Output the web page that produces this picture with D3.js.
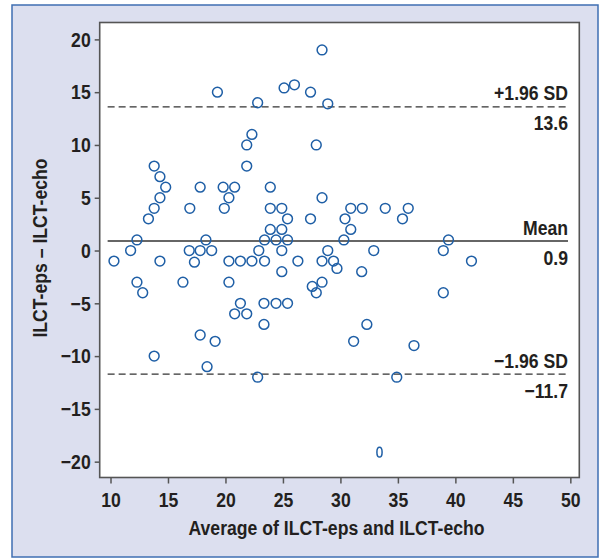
<!DOCTYPE html>
<html><head><meta charset="utf-8">
<script src="https://cdn.jsdelivr.net/npm/d3@7"></script>
<style>
html,body{margin:0;padding:0;background:#fff;}
svg text{font-family:"Liberation Sans Narrow","Arial Narrow","Liberation Sans",Arial,sans-serif;font-weight:bold;fill:#231f20;}
</style></head>
<body>
<script>
// Bland–Altman data: [average, difference]
const avgValues = [10.3,11.75,12.3,12.3,12.8,13.3,13.8,13.8,13.8,14.3,14.3,14.3,14.8,16.3,16.85,16.9,17.3,17.8,17.8,17.8,18.3,18.8,18.4,19.1,19.3,19.8,19.9,20.3,20.3,20.3,20.8,20.8,21.3,21.3,21.85,21.85,21.85,22.3,22.3,22.8,22.8,22.9,23.4,23.4,23.35,23.35,23.9,23.9,23.9,24.4,24.4,24.9,24.9,24.9,24.9,25.1,25.4,25.4,25.4,26.0,26.3,27.4,27.4,27.55,27.9,27.9,28.4,28.4,28.4,28.4,28.9,28.9,29.4,29.7,30.3,30.4,30.9,30.9,31.15,31.85,31.9,32.3,32.9,33.9,34.9,35.4,35.9,36.4,38.95,38.95,39.4,41.4];
const diffValues = [-1,0,1,-3,-4,3,4,8,-10,7,5,-1,6,-3,0,4,-1.1,6,0,-8,1,0,-11,-8.6,15,6,4,5,-1,-3,6,-6,-1,-5,10,8,-6,11,-1,14,-12,0,1,-1,-5,-7,6,4,2,1,-5,4,2,0,-2,15.4,3,1,-5,15.7,-1,15,3,-3.4,10,-4,19,5,-1,-3,13.9,0,-1,-1.7,1,3,4,2,-8.6,-2,4,-7,0,4,-12,3,4,-9,0,-4,1,-1];
// point drawn clipped/narrow in the original
const narrowAvg = [33.4];
const narrowDiff = [-19.1];

const xTicks = [10,15,20,25,30,35,40,45,50];
const yTicks = [20,15,10,5,0,-5,-10,-15,-20];
const meanDiff = 0.9, upperLoA = 13.6, lowerLoA = -11.7;
const lineSpan = [9.75, 49.8];
const refLabels = [
  {v: upperLoA, name: "+1.96 SD", val: "13.6", dash: true},
  {v: meanDiff, name: "Mean", val: "0.9", dash: false},
  {v: lowerLoA, name: "\u22121.96 SD", val: "\u221211.7", dash: true}
];
const xTitle = "Average of ILCT-eps and ILCT-echo";
const yTitle = "ILCT-eps \u2013 ILCT-echo";

const W = 609, H = 558;
const SX = 0.84; // horizontal condensing to imitate a condensed bold face
const svg = d3.select("body").append("svg").attr("width", W).attr("height", H);

function condense(sel) {
  sel.each(function() {
    const t = d3.select(this);
    const X = +(t.attr("x") || 0);
    t.attr("transform", `translate(${X},0) scale(${SX},1) translate(${-X},0)`);
  });
}

// outer panel
svg.append("rect").attr("x", 12).attr("y", 5).attr("width", 586).attr("height", 552)
  .attr("fill", "#dcdfef").attr("stroke", "#3f6fb3").attr("stroke-width", 1.5);

const x = d3.scaleLinear().domain([9.06, 50.78]).range([99.7, 579.3]);
const y = d3.scaleLinear().domain([-21.5, 21.6]).range([477.5, 22.5]);

// plot area
svg.append("rect").attr("x", x.range()[0]).attr("y", y.range()[1])
  .attr("width", x.range()[1]-x.range()[0]).attr("height", y.range()[0]-y.range()[1])
  .attr("fill", "#fff").attr("stroke", "#555").attr("stroke-width", 1.6);

// axes
const xAxis = d3.axisBottom(x).tickValues(xTicks).tickSize(6).tickPadding(9).tickFormat(d3.format("d"));
const gx = svg.append("g").attr("transform", `translate(0,${y.range()[0]})`).call(xAxis);
gx.select(".domain").remove();
gx.selectAll("line").attr("stroke", "#555").attr("stroke-width", 1.5);
gx.selectAll("text").attr("font-size", 21).style("fill", "#231f20").call(condense);

const yAxis = d3.axisLeft(y).tickValues(yTicks).tickSize(5).tickPadding(4)
  .tickFormat(d => d < 0 ? "\u2212" + Math.abs(d) : String(d));
const gy = svg.append("g").attr("transform", `translate(${x.range()[0]},0)`).call(yAxis);
gy.select(".domain").remove();
gy.selectAll("line").attr("stroke", "#555").attr("stroke-width", 1.5);
gy.selectAll("text").attr("font-size", 21).style("fill", "#231f20").call(condense);

// axis titles
svg.append("text").attr("x", (x.range()[0]+x.range()[1])/2 - 3).attr("y", 535)
  .attr("text-anchor", "middle").attr("font-size", 21).text(xTitle).call(condense);
svg.append("text").attr("transform", `translate(47,${(y.range()[0]+y.range()[1])/2 - 2}) rotate(-90) scale(${SX},1)`)
  .attr("text-anchor", "middle").attr("font-size", 21).text(yTitle);

// reference lines
refLabels.forEach(r => {
  svg.append("line").attr("x1", x(lineSpan[0])).attr("x2", x(lineSpan[1]))
    .attr("y1", y(r.v)).attr("y2", y(r.v))
    .attr("stroke", "#333").attr("stroke-width", r.dash ? 1.3 : 1.5)
    .attr("stroke-dasharray", r.dash ? "7,4" : null);
  svg.append("text").attr("x", x(lineSpan[1])).attr("y", y(r.v) - 6.5)
    .attr("text-anchor", "end").attr("font-size", 21).text(r.name).call(condense);
  svg.append("text").attr("x", x(lineSpan[1])).attr("y", y(r.v) + 23.5)
    .attr("text-anchor", "end").attr("font-size", 21).text(r.val).call(condense);
});

// points
const pts = avgValues.map((a, i) => [a, diffValues[i]]);
svg.append("g").selectAll("circle").data(pts).join("circle")
  .attr("cx", d => x(d[0])).attr("cy", d => y(d[1])).attr("r", 4.9)
  .attr("fill", "none").attr("stroke", "#1f5fa6").attr("stroke-width", 1.5);
svg.append("g").selectAll("ellipse").data(narrowAvg.map((a,i)=>[a, narrowDiff[i]])).join("ellipse")
  .attr("cx", d => x(d[0])).attr("cy", d => y(d[1])).attr("rx", 2.6).attr("ry", 4.9)
  .attr("fill", "none").attr("stroke", "#1f5fa6").attr("stroke-width", 1.5);
</script>
</body></html>
